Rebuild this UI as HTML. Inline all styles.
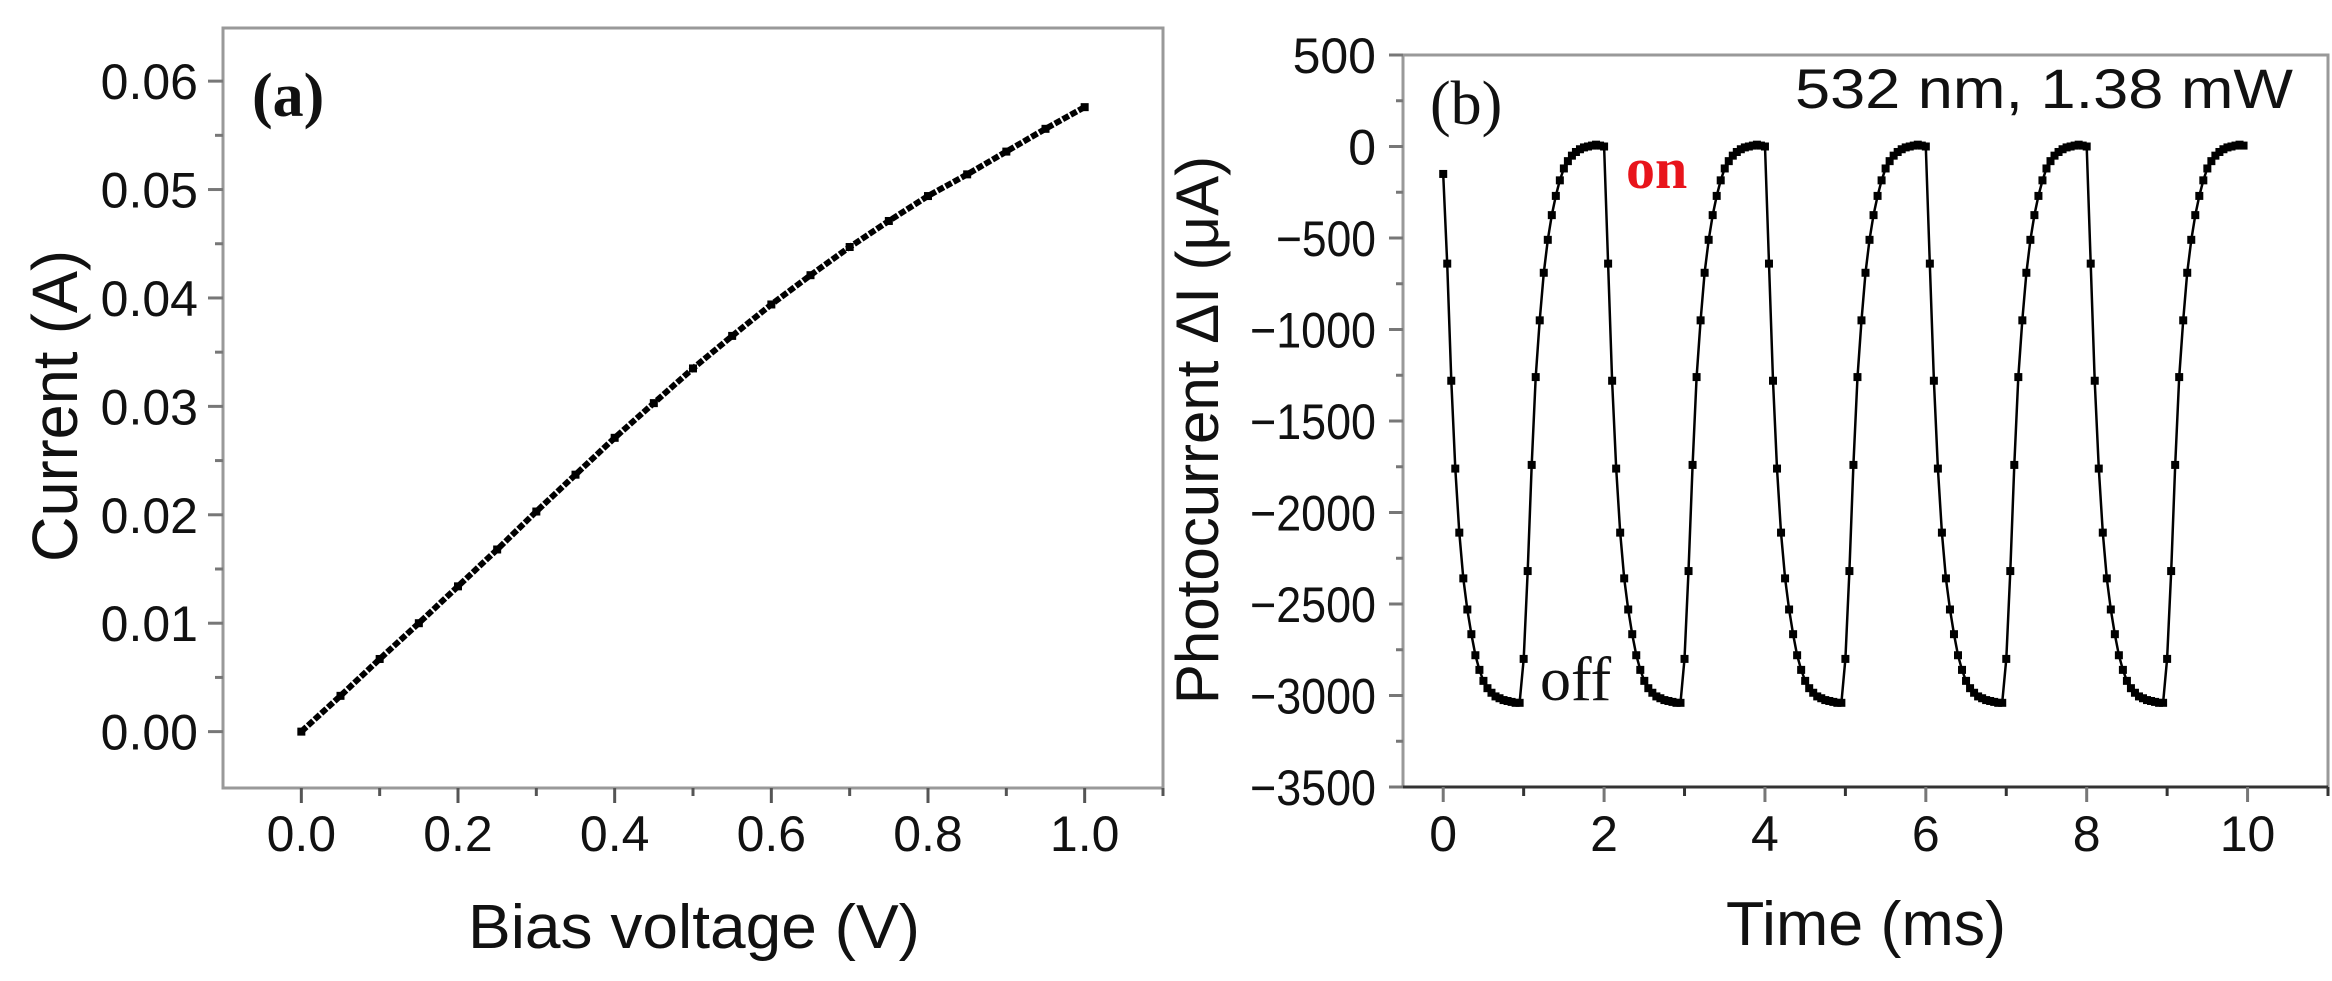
<!DOCTYPE html>
<html><head><meta charset="utf-8"><style>
html,body{margin:0;padding:0;background:#fff}
svg{display:block}
text{font-family:"Liberation Sans",Arial,sans-serif;fill:#111}
.serif{font-family:"Liberation Serif","Times New Roman",serif}
</style></head><body>
<svg id="fig" width="2332" height="981" viewBox="0 0 2332 981" xmlns="http://www.w3.org/2000/svg">
<g id="pa"></g>
<g id="pb"></g>
</svg>
<script>
// Panel (a) data
const biasV = [0,0.05,0.1,0.15,0.2,0.25,0.3,0.35,0.4,0.45,0.5,0.55,0.6,0.65,0.7,0.75,0.8,0.85,0.9,0.95,1.0];
const currentA = [0,0.0033,0.0067,0.0100,0.0134,0.0168,0.0203,0.0237,0.0271,0.0303,0.0335,0.0365,0.0394,0.0421,0.0447,0.0471,0.0494,0.0514,0.0535,0.0556,0.0576];
const aYTicks = [0,0.01,0.02,0.03,0.04,0.05,0.06];
const aYLabels = ["0.00","0.01","0.02","0.03","0.04","0.05","0.06"];
const aXTicks = [0,0.2,0.4,0.6,0.8,1.0];
const aXLabels = ["0.0","0.2","0.4","0.6","0.8","1.0"];
// Panel (b) data
const cycleStarts = [0,2,4,6,8];
const cycleFirstValue = [-150,0,0,0,0];
const fallCurve = [0,-640,-1280,-1760,-2110,-2360,-2530,-2665,-2780,-2860,-2920,-2960,-2985,-3005,-3015,-3025,-3030,-3035,-3040,-3040];
const riseCurve = [-2800,-2320,-1740,-1260,-950,-690,-510,-375,-270,-185,-120,-80,-50,-30,-15,-5,0,5,10,5];
const bYTicks = [500,0,-500,-1000,-1500,-2000,-2500,-3000,-3500];
const bYLabels = ["500","0","\u2212500","\u22121000","\u22121500","\u22122000","\u22122500","\u22123000","\u22123500"];
const bXTicks = [0,2,4,6,8,10];
const bXLabels = ["0","2","4","6","8","10"];

const NS="http://www.w3.org/2000/svg";
function mk(parent,tag,attrs,txt){const e=document.createElementNS(NS,tag);for(const k in attrs)e.setAttribute(k,attrs[k]);if(txt!==undefined)e.textContent=txt;parent.appendChild(e);return e;}

// ---------- Panel A ----------
const A={l:223,r:1163,t:28,b:788,x0:-0.1,x1:1.1,y0:-0.0052,y1:0.0649};
const ax=v=>A.l+(v-A.x0)/(A.x1-A.x0)*(A.r-A.l);
const ay=v=>A.b-(v-A.y0)/(A.y1-A.y0)*(A.b-A.t);
const pa=document.getElementById('pa');
let fr=mk(pa,'rect',{x:A.l,y:A.t,width:A.r-A.l,height:A.b-A.t,fill:'none',stroke:'#999','stroke-width':3});


for(let i=0;i<aYTicks.length;i++){
  const y=ay(aYTicks[i]);
  let t=mk(pa,'line',{x1:A.l-15,x2:A.l,y1:y,y2:y,stroke:'#777','stroke-width':3});
  
  
  let lb=mk(pa,'text',{x:198,y:y+18,'font-size':50,'text-anchor':'end'},aYLabels[i]);
  
  
  if(i<aYTicks.length-1){const ym=ay(aYTicks[i]+0.005);
    let m=mk(pa,'line',{x1:A.l-8,x2:A.l,y1:ym,y2:ym,stroke:'#777','stroke-width':3});
    
    }
}
for(let i=0;i<aXTicks.length;i++){
  const x=ax(aXTicks[i]);
  let t=mk(pa,'line',{x1:x,x2:x,y1:A.b,y2:A.b+15,stroke:'#555','stroke-width':3});
  
  
  let lb=mk(pa,'text',{x:x,y:851,'font-size':50,'text-anchor':'middle'},aXLabels[i]);
  
  
  const xm=ax(aXTicks[i]+0.1);
  let m=mk(pa,'line',{x1:xm,x2:xm,y1:A.b,y2:A.b+8,stroke:'#555','stroke-width':3});
  
  
}
let pts=biasV.map((v,i)=>ax(v).toFixed(1)+','+ay(currentA[i]).toFixed(1)).join(' ');
let ln=mk(pa,'polyline',{points:pts,fill:'none',stroke:'#000','stroke-width':6,'stroke-dasharray':'7 2'});


for(let i=0;i<biasV.length;i++){
  let p=mk(pa,'rect',{x:ax(biasV[i])-4,y:ay(currentA[i])-4,width:8,height:8,fill:'#000'});
  
  
}
let ta=mk(pa,'text',{x:694,y:948,'font-size':62,'text-anchor':'middle',textLength:452,lengthAdjust:'spacingAndGlyphs'},'Bias voltage (V)');


let tya=mk(pa,'text',{x:0,y:0,'font-size':64,'text-anchor':'middle',transform:'translate(77,406) rotate(-90)',textLength:312,lengthAdjust:'spacingAndGlyphs'},'Current (A)');


let la=mk(pa,'text',{x:252,y:116,'font-size':62,'font-weight':'bold',class:'serif'},'(a)');



// ---------- Panel B ----------
const B={l:1403,r:2328,t:55,b:787,x0:-0.5,x1:11,y0:-3500,y1:500};
const bx=v=>B.l+(v-B.x0)/(B.x1-B.x0)*(B.r-B.l);
const by=v=>B.b-(v-B.y0)/(B.y1-B.y0)*(B.b-B.t);
const pb=document.getElementById('pb');
let fb=mk(pb,'rect',{x:B.l,y:B.t,width:B.r-B.l,height:B.b-B.t,fill:'none',stroke:'#999','stroke-width':3});


let bl=mk(pb,'line',{x1:B.l-14,x2:B.r,y1:B.b,y2:B.b,stroke:'#333','stroke-width':3});


for(let i=0;i<bYTicks.length;i++){
  const y=by(bYTicks[i]);
  let t=mk(pb,'line',{x1:B.l-14,x2:B.l,y1:y,y2:y,stroke:'#777','stroke-width':3});
  
  
  const lbAttrs={x:1376,y:y+18,'font-size':50,'text-anchor':'end'};
  if(bYLabels[i].length>=5){lbAttrs.textLength=126;lbAttrs.lengthAdjust='spacingAndGlyphs';}
  else if(bYLabels[i].length===4){lbAttrs.textLength=100;lbAttrs.lengthAdjust='spacingAndGlyphs';}
  let lb=mk(pb,'text',lbAttrs,bYLabels[i]);
  
  
  if(i<bYTicks.length-1){const ym=by(bYTicks[i]-250);
    let m=mk(pb,'line',{x1:B.l-7,x2:B.l,y1:ym,y2:ym,stroke:'#777','stroke-width':3});
    
    }
}
for(let i=0;i<bXTicks.length;i++){
  const x=bx(bXTicks[i]);
  let t=mk(pb,'line',{x1:x,x2:x,y1:B.b,y2:B.b+15,stroke:'#777','stroke-width':3});
  
  
  let lb=mk(pb,'text',{x:x,y:851,'font-size':50,'text-anchor':'middle'},bXLabels[i]);
  
  
  const xm=bx(bXTicks[i]+1);
  let m=mk(pb,'line',{x1:xm,x2:xm,y1:B.b,y2:B.b+9,stroke:'#333','stroke-width':3});
  
  
}
const tArr=[],vArr=[];
for(let c=0;c<cycleStarts.length;c++){
  for(let k=0;k<fallCurve.length;k++){tArr.push(cycleStarts[c]+k*0.05);vArr.push(k===0?cycleFirstValue[c]:fallCurve[k]);}
  for(let k=0;k<riseCurve.length;k++){tArr.push(cycleStarts[c]+1+k*0.05);vArr.push(riseCurve[k]);}
}
let pts2=tArr.map((t,i)=>bx(t).toFixed(1)+','+by(vArr[i]).toFixed(1)).join(' ');
let ln2=mk(pb,'polyline',{points:pts2,fill:'none',stroke:'#000','stroke-width':2.5});


for(let i=0;i<tArr.length;i++){
  let p=mk(pb,'rect',{x:bx(tArr[i])-4,y:by(vArr[i])-4,width:8,height:8,fill:'#000'});
  
  
}
let tb=mk(pb,'text',{x:1866,y:945,'font-size':62,'text-anchor':'middle',textLength:280,lengthAdjust:'spacingAndGlyphs'},'Time (ms)');


let tyb=mk(pb,'text',{x:0,y:0,'font-size':60,'text-anchor':'middle',transform:'translate(1218,430) rotate(-90)'},'Photocurrent \u0394I (\u03bcA)');


let lbb=mk(pb,'text',{x:1430,y:124,'font-size':62,class:'serif'},'(b)');


let cond=mk(pb,'text',{x:2293,y:108,'font-size':56,'text-anchor':'end',textLength:498,lengthAdjust:'spacingAndGlyphs'},'532 nm, 1.38 mW');


let on=mk(pb,'text',{x:1626,y:188,'font-size':58,'font-weight':'bold',class:'serif',fill:'#e8141b',style:'fill:#e8141b'},'on');


let off=mk(pb,'text',{x:1540,y:700,'font-size':62,class:'serif'},'off');


</script>
</body></html>
